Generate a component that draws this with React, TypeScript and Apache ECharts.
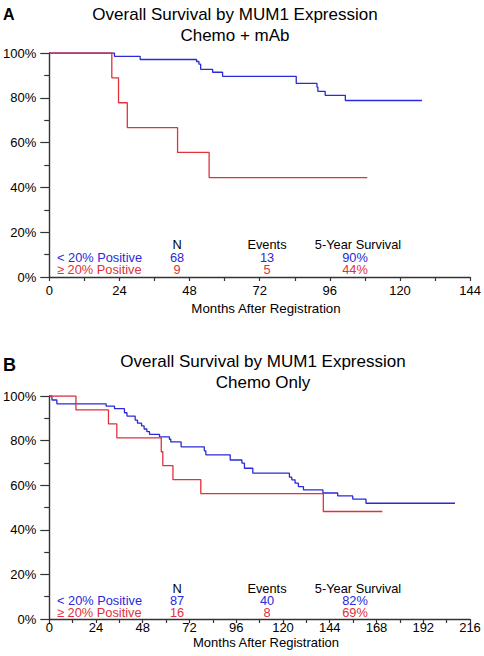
import React, { useEffect, useRef } from "react";
import * as echarts from "echarts";

const FONT = "Arial, 'Liberation Sans', Helvetica, sans-serif";
const BLUE = "#2a2ad8";
const RED = "#e2303c";
const AXIS = "#333333";

// Panel A: Chemo + mAb
const blueA_t = [0, 22.3, 31.1, 50.4, 51.2, 51.8, 55.9, 59.3, 84.5, 91.6, 91.9, 94.4, 101.3, 127.5];
const blueA_s = [100, 98.5, 97.1, 96.2, 95.0, 92.7, 91.4, 89.6, 86.4, 84.8, 82.9, 81.1, 78.8, 78.8];
const redA_t = [0, 21.4, 23.7, 26.7, 43.9, 54.7, 108.8];
const redA_s = [100, 88.9, 77.8, 66.7, 55.6, 44.4, 44.4];

// Panel B: Chemo Only
const blueB_t = [0, 1.4, 3.9, 29.2, 33.5, 38.6, 39.9, 44.1, 45.3, 47.4, 48.7, 50.1, 51.5, 56.6, 61.7, 62.4, 67.7, 79.6, 80.4, 92.9, 98.9, 100.2, 104.5, 123.3, 124.5, 126.2, 127.9, 130.5, 140.5, 148.1, 155.8, 162.6, 208.3];
const blueB_s = [100, 98.2, 96.5, 95.5, 94.3, 92.5, 91.0, 89.2, 87.8, 86.6, 85.2, 84.0, 82.8, 81.7, 80.6, 79.4, 77.2, 75.4, 73.6, 71.3, 69.9, 67.6, 65.4, 63.6, 62.4, 60.9, 59.4, 57.9, 56.5, 55.2, 53.8, 51.9, 51.9];
const redB_t = [0, 13.7, 30.4, 34.7, 57.5, 58.3, 63.5, 77.8, 140.7, 171];
const redB_s = [100, 93.75, 87.5, 81.25, 75, 68.75, 62.5, 56.25, 48.2, 48.2];

const titleLine1 = "Overall Survival by MUM1 Expression";
const subtitleA = "Chemo + mAb";
const subtitleB = "Chemo Only";
const xAxisTitle = "Months After Registration";
const groupLabels = ["< 20% Positive", "\u2265 20% Positive"];
const tableHeaders = ["N", "Events", "5-Year Survival"];
const tableA_N = ["68", "9"];
const tableA_events = ["13", "5"];
const tableA_surv = ["90%", "44%"];
const tableB_N = ["87", "16"];
const tableB_events = ["40", "8"];
const tableB_surv = ["82%", "69%"];

const pairs = (t: number[], s: number[]) => t.map((x, i) => [x, s[i]]);

function App() {
  const ref = useRef<HTMLDivElement>(null);
  useEffect(() => {
    if (!ref.current) return;
    const chart = echarts.init(ref.current, undefined, { renderer: "svg" });

    const xAxisCfg = (grid: number, max: number, margin: number) => ({
      type: "value",
      gridIndex: grid,
      min: 0,
      max,
      interval: 24,
      axisLine: { show: true, onZero: false, lineStyle: { color: AXIS, width: 1.4 } },
      axisTick: { show: true, length: 4, lineStyle: { color: AXIS, width: 1.2 } },
      minorTick: { show: true, splitNumber: 2, length: 4, lineStyle: { color: AXIS, width: 1.2 } },
      splitLine: { show: false },
      minorSplitLine: { show: false },
      axisLabel: { fontSize: 13, lineHeight: 12, color: "#000", fontFamily: FONT, margin },
    });
    const yAxisCfg = (grid: number) => ({
      type: "value",
      gridIndex: grid,
      min: 0,
      max: 100,
      interval: 20,
      axisLine: { show: true, onZero: false, lineStyle: { color: AXIS, width: 1.4 } },
      axisTick: { show: true, length: 9, lineStyle: { color: AXIS, width: 1.2 } },
      minorTick: { show: true, splitNumber: 2, length: 5, lineStyle: { color: AXIS, width: 1.2 } },
      splitLine: { show: false },
      minorSplitLine: { show: false },
      axisLabel: { fontSize: 13, color: "#000", fontFamily: FONT, margin: 13, formatter: "{value}%" },
    });

    const series = (name: string, t: number[], s: number[], color: string, gi: number) => ({
      name,
      type: "line",
      xAxisIndex: gi,
      yAxisIndex: gi,
      step: "end",
      showSymbol: false,
      symbol: "none",
      lineStyle: { color, width: 1.3 },
      data: pairs(t, s),
      silent: true,
    });

    const txt = (text: string, x: number, y: number, opts: any = {}) => ({
      type: "text",
      x,
      y,
      silent: true,
      style: {
        text,
        fontFamily: FONT,
        fontSize: opts.fontSize ?? 13,
        lineHeight: opts.lineHeight ?? undefined,
        fontWeight: opts.fontWeight ?? "normal",
        fill: opts.fill ?? "#000",
        align: opts.align ?? "center",
        verticalAlign: "middle",
      },
    });

    const T = (text: string, x: number, y: number, opts: any = {}) =>
      txt(text, x, y, { fontSize: 12.8, lineHeight: 11.5, ...opts });

    const table = (yHeader: number, yRow1: number, yRow2: number, N: string[], ev: string[], surv: string[]) => [
      T(tableHeaders[0], 177, yHeader),
      T(tableHeaders[1], 267, yHeader),
      T(tableHeaders[2], 358, yHeader),
      T(groupLabels[0], 57, yRow1, { align: "left", fill: BLUE }),
      T(groupLabels[1], 57, yRow2, { align: "left", fill: RED }),
      T(N[0], 177, yRow1, { fill: BLUE }),
      T(N[1], 177, yRow2, { fill: RED }),
      T(ev[0], 267, yRow1, { fill: BLUE }),
      T(ev[1], 267, yRow2, { fill: RED }),
      T(surv[0], 355, yRow1, { fill: BLUE }),
      T(surv[1], 355, yRow2, { fill: RED }),
    ];

    chart.setOption({
      animation: false,
      backgroundColor: "#fff",
      grid: [
        { left: 49, top: 53, width: 422, height: 224 },
        { left: 49, top: 396, width: 421, height: 223 },
      ],
      xAxis: [xAxisCfg(0, 144, 7), xAxisCfg(1, 216, 2)],
      yAxis: [yAxisCfg(0), yAxisCfg(1)],
      series: [
        series("< 20% Positive A", blueA_t, blueA_s, BLUE, 0),
        series("\u2265 20% Positive A", redA_t, redA_s, RED, 0),
        series("< 20% Positive B", blueB_t, blueB_s, BLUE, 1),
        series("\u2265 20% Positive B", redB_t, redB_s, RED, 1),
      ],
      graphic: [
        txt("A", 3, 14, { fontSize: 16, fontWeight: "bold", align: "left" }),
        txt(titleLine1, 235, 14, { fontSize: 17 }),
        txt(subtitleA, 235, 35, { fontSize: 17 }),
        txt(xAxisTitle, 266, 308, { fontSize: 13.3 }),
        ...table(244, 257.5, 269.5, tableA_N, tableA_events, tableA_surv),
        txt("B", 3, 365, { fontSize: 18, fontWeight: "bold", align: "left" }),
        txt(titleLine1, 263, 361, { fontSize: 17 }),
        txt(subtitleB, 263, 382, { fontSize: 17 }),
        txt(xAxisTitle, 266, 642, { fontSize: 13, lineHeight: 12 }),
        ...table(588, 600, 612, tableB_N, tableB_events, tableB_surv),
      ],
    });
    return () => chart.dispose();
  }, []);
  return <div ref={ref} style={{ position: "absolute", left: 0, top: 0, width: 484, height: 656 }} />;
}

export default App;
